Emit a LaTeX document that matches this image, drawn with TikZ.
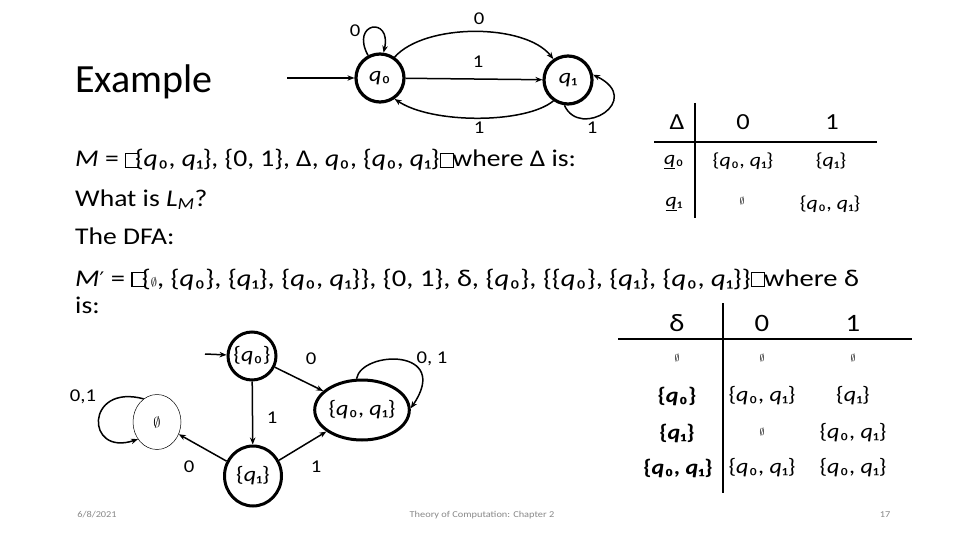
\documentclass[tikz,border=0pt]{standalone}
\usepackage{fontspec}
\setmainfont[FakeStretch=1.15]{Carlito}
\newfontfamily\titlefont{Carlito}
\newfontfamily\dejavu{DejaVu Sans}
\usetikzlibrary{arrows.meta,shapes.geometric}
\definecolor{footgrey}{RGB}{137,137,137}
\newcommand{\qz}{\textit{q}₀}
\newcommand{\qi}{\textit{q}₁}
\newcommand{\bqz}{\textbf{\textit{q}₀}}
\newcommand{\bqi}{\textbf{\textit{q}₁}}
\newcommand{\tofu}[1]{{\setlength{\fboxsep}{0pt}\setlength{\fboxrule}{1pt}\fbox{\rule{0pt}{13pt}\hspace{12pt}}}\hspace{#1}}
\newcommand{\es}[1]{{\fontsize{#1}{#1}\selectfont$\emptyset$}}
\newcommand{\fs}[1]{\fontsize{#1}{#1}\selectfont}
\begin{document}
\begin{tikzpicture}[x=1pt,y=-1pt,
  st/.style={circle, draw, line width=3.2pt, minimum size=48pt, inner sep=0pt, font=\fs{21}},
  dst/.style={ellipse, draw, line width=3pt, inner sep=0pt, font=\fs{21}},
  edge/.style={-{Stealth[length=7pt,width=5.5pt]}, line width=1.5pt},
  lbl/.style={font=\fs{18}, inner sep=0pt},
  body/.style={anchor=base west, inner sep=0pt, font=\fs{24}},
  cell/.style={inner sep=0pt, font=\fs{19}},
  cellb/.style={inner sep=0pt, font=\fs{21}},
  head/.style={inner sep=0pt, font=\fs{23}},
  foot/.style={inner sep=0pt, font=\fs{9}, text=footgrey}]
\useasboundingbox (0,0) rectangle (960,540);
\fill[white] (0,0) rectangle (960,540);

% title
\node[anchor=base west, inner sep=0pt, font=\titlefont\fs{40}] (title) at (75,93) {Example};

% NFA
\node[st] (q0) at (380,78) {\qz};
\node[st] (q1) at (568,80) {\qi};
\coordinate (s0) at (287,78);
\draw[edge] (s0) -- (q0);
\draw[edge] (q0.118) .. controls (350,22) and (392,16) .. (q0.82);
\node[lbl] (l00) at (355,31) {0};
\draw[edge] (q0.55) .. controls (425,23) and (525,23) .. (q1.125);
\node[lbl] (l01) at (479,19) {0};
\draw[edge] (q0) -- (q1);
\node[lbl] (l02) at (478,62) {1};
\draw[edge] (q1.235) .. controls (525,124) and (432,124) .. (q0.305);
\node[lbl] (l03) at (479,128) {1};
\draw[edge] (q1.262) .. controls (580,140) and (645,100) .. (q1.12);
\node[lbl] (l04) at (592,128) {1};

% body text
\node[body] (t1) at (75,167) {\textit{M} = \tofu{-4pt}\{\qz, \qi\}, \{0, 1\}, Δ, \qz, \{\qz, \qi\}\tofu{-1pt}where Δ is:};
\node[body] (t2) at (75,206) {What is \textit{L}\textsubscript{\textit{M}}?};
\node[body] (t3) at (75,244) {The DFA:};
\node[body] (t4) at (75,286) {\scalebox{1.035}[1]{\textit{M}{\dejavu\fs{20}′} = \tofu{-4pt}\{\es{12}, \{\qz\}, \{\qi\}, \{\qz, \qi\}\}, \{0, 1\}, δ, \{\qz\}, \{\{\qz\}, \{\qi\}, \{\qz, \qi\}\}\tofu{-1pt}where δ}};
\node[body] (t5) at (75,313) {is:};

% Delta table
\draw[line width=1.4pt] (695,103) -- (695,218);
\draw[line width=1.4pt] (654,142) -- (877,142);
\node[head] (dh0) at (677,122) {Δ};
\node[head] (dh1) at (743,122) {0};
\node[head] (dh2) at (832,122) {1};
\node[cell] (dr1) at (674,162) {\underline{\textit{q}}₀};
\node[cell] (d11) at (743,161) {\{\qz, \qi\}};
\node[cell] (d12) at (831,161) {\{\qi\}};
\node[cell] (dr2) at (674,204) {\underline{\textit{q}}₁};
\node[cell] (d21) at (742,201) {\es{10}};
\node[cell] (d22) at (830,204) {\{\qz, \qi\}};

% delta table (DFA)
\draw[line width=1.4pt] (723,303) -- (723,493);
\draw[line width=1.4pt] (618,339) -- (912,339);
\node[head,font=\fs{25}] (eh0) at (677,323) {δ};
\node[head,font=\fs{25}] (eh1) at (762,323) {0};
\node[head,font=\fs{25}] (eh2) at (853,323) {1};
\node[cell] (e00) at (677,358) {\es{10}};
\node[cell] (e01) at (762,358) {\es{10}};
\node[cell] (e02) at (853,358) {\es{10}};
\node[cellb,font=\fs{21}\bfseries] (e10) at (677,396) {\{\bqz\}};
\node[cellb] (e11) at (762,396) {\{\qz, \qi\}};
\node[cellb] (e12) at (853,396) {\{\qi\}};
\node[cellb,font=\fs{21}\bfseries] (e20) at (677,433) {\{\bqi\}};
\node[cell] (e21) at (762,432) {\es{10}};
\node[cellb] (e22) at (853,433) {\{\qz, \qi\}};
\node[cellb,font=\fs{21}\bfseries] (e30) at (678,468) {\{\bqz, \bqi\}};
\node[cellb] (e31) at (762,468) {\{\qz, \qi\}};
\node[cellb] (e32) at (853,468) {\{\qz, \qi\}};

% DFA
\node[st, line width=3pt] (A) at (252,356) {\{\qz\}};
\node[dst, minimum width=80pt, minimum height=60pt] (B) at (362,410) {\{\qz, \qi\}};
\node[ellipse, draw, line width=0.5pt, minimum width=48pt, minimum height=55pt, inner sep=0pt] (E) at (157,422) {\es{14}};
\node[dst, minimum width=57pt, minimum height=60pt] (C) at (253,476) {\{\qi\}};
\coordinate (s1) at (205,354);
\draw[edge] (s1) -- (A);
\draw[edge] (A) -- (B);
\node[lbl] (m1) at (311,359) {0};
\draw[edge] (A) -- (C);
\node[lbl] (m2) at (272,418) {1};
\draw[edge] (C) -- (E);
\node[lbl] (m3) at (189,467) {0};
\draw[edge] (C) -- (B);
\node[lbl] (m4) at (316,467) {1};
\draw[edge] (B.100) .. controls (362,350) and (452,348) .. (B.2);
\node[lbl] (m5) at (432,359) {0, 1};
\draw[edge] (E.120) .. controls (85,383) and (85,457) .. (E.222);
\node[lbl] (m6) at (83,397) {0,1};

% footer
\node[foot] (f1) at (97,515) {6/8/2021};
\node[foot] (f2) at (482,515) {Theory of Computation: Chapter 2};
\node[foot] (f3) at (885,515) {17};
\end{tikzpicture}
\end{document}
